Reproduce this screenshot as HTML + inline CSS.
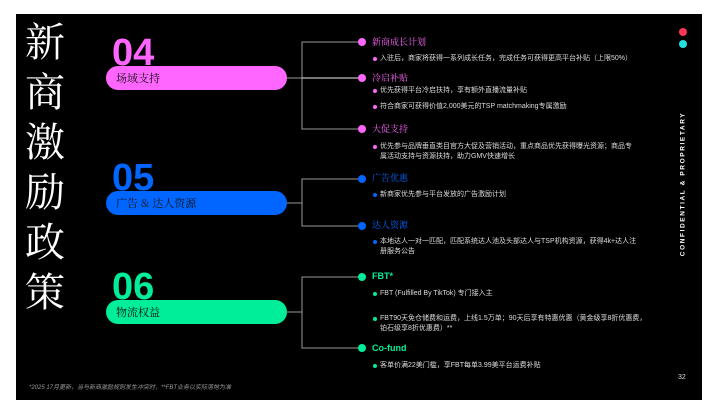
<!DOCTYPE html>
<html><head><meta charset="utf-8"><style>
body{margin:0;width:719px;height:415px;background:#fff;position:relative;overflow:hidden;font-family:"Liberation Sans","Noto Sans CJK SC",sans-serif}
.bg{position:absolute;left:16px;top:14px;width:686px;height:386px;background:#000}
.a{position:absolute;white-space:nowrap}
.t{left:25px;color:#fff;font-family:"Noto Serif CJK SC",serif;font-size:40px;line-height:40px}
.num{font-weight:bold;font-size:38px;line-height:30px;left:112px}
.bar{position:absolute;left:106px;width:181px;height:24px;border-radius:12px;color:#111;font-family:"Noto Serif CJK SC",serif;font-size:11px;line-height:24px;padding-left:10px;box-sizing:border-box}
.h{font-size:9px;line-height:10px;left:372px;font-family:"Noto Serif CJK SC",serif}
.b{font-size:7px;line-height:10px;left:380px;color:#ddd}
.sd{position:absolute;width:4px;height:4px;border-radius:50%;left:373px}
</style></head><body>
<div class="bg"></div>
<div class="a t" style="top:20px">新</div>
<div class="a t" style="top:70px">商</div>
<div class="a t" style="top:120px">激</div>
<div class="a t" style="top:170px">励</div>
<div class="a t" style="top:220px">政</div>
<div class="a t" style="top:270px">策</div>

<div class="a num" style="top:38px;color:#ff66ff">04</div>
<div class="bar" style="top:66px;background:#ff66ff">场域支持</div>
<div class="a num" style="top:163px;color:#0066ff">05</div>
<div class="bar" style="top:191px;background:#0066ff">广告 &amp; 达人资源</div>
<div class="a num" style="top:272px;color:#00ee99">06</div>
<div class="bar" style="top:300px;background:#00ee99">物流权益</div>

<svg class="a" style="left:0;top:0" width="719" height="415">
<g stroke="#999" stroke-width="1" fill="none">
<path d="M362 42H302V129H362"/><path d="M287 78H302"/>
<path d="M362 179H302V226H362"/><path d="M287 203H302"/>
<path d="M362 277H302V348H362"/><path d="M287 312H302"/>
</g>
<path d="M302 78H362" stroke="#eee" stroke-width="1"/>
<g fill="#ff66ff"><circle cx="362" cy="42" r="4"/><circle cx="362" cy="78" r="4"/><circle cx="362" cy="129" r="4"/></g>
<g fill="#0066ff"><circle cx="362" cy="179" r="4"/><circle cx="362" cy="226" r="4"/></g>
<g fill="#00ee99"><circle cx="362" cy="277" r="4"/><circle cx="362" cy="348" r="4"/></g>
<circle cx="683" cy="32" r="4" fill="#ff3355"/><circle cx="683" cy="44" r="4" fill="#22e0e0"/>
</svg>

<div class="a h" style="top:37px;color:#ff66ff">新商成长计划</div>
<div class="sd" style="top:57px;background:#ff66ff"></div><div class="a b" style="top:54px">入驻后，商家将获得一系列成长任务，完成任务可获得更高平台补贴（上限50%）</div>
<div class="a h" style="top:73px;color:#ff66ff">冷启补贴</div>
<div class="sd" style="top:89px;background:#ff66ff"></div><div class="a b" style="top:86px">优先获得平台冷启扶持，享有额外直播流量补贴</div>
<div class="sd" style="top:105px;background:#ff66ff"></div><div class="a b" style="top:102px">符合商家可获得价值2,000美元的TSP matchmaking专属激励</div>
<div class="a h" style="top:124px;color:#ff66ff">大促支持</div>
<div class="sd" style="top:145px;background:#ff66ff"></div><div class="a b" style="top:142px">优先参与品牌垂直类目官方大促及营销活动，重点商品优先获得曝光资源；商品专</div>
<div class="a b" style="top:152px">属活动支持与资源扶持，助力GMV快速增长</div>

<div class="a h" style="top:173px;color:#0066ff">广告优惠</div>
<div class="sd" style="top:193px;background:#0066ff"></div><div class="a b" style="top:190px">新商家优先参与平台发放的广告激励计划</div>
<div class="a h" style="top:220px;color:#0066ff">达人资源</div>
<div class="sd" style="top:240px;background:#0066ff"></div><div class="a b" style="top:237px">本地达人一对一匹配，匹配系统达人池及头部达人与TSP机构资源，获得4k+达人注</div>
<div class="a b" style="top:247px">册服务公告</div>

<div class="a h" style="top:271px;color:#00ee99;font-family:'Liberation Sans',sans-serif;font-weight:bold">FBT*</div>
<div class="sd" style="top:292px;background:#00ee99"></div><div class="a b" style="top:289px">FBT (Fulfilled By TikTok) 专门接入主</div>
<div class="sd" style="top:317px;background:#00ee99"></div><div class="a b" style="top:314px">FBT90天免仓储费和运费，上线1.5万单；90天后享有特惠优惠（黄金级享8折优惠费，</div>
<div class="a b" style="top:324px">铂石级享8折优惠费）**</div>
<div class="a h" style="top:343px;color:#00ee99;font-family:'Liberation Sans',sans-serif;font-weight:bold">Co-fund</div>
<div class="sd" style="top:364px;background:#00ee99"></div><div class="a b" style="top:361px">客单价满22美门槛，享FBT每单3.99美平台运费补贴</div>

<div class="a" style="left:678px;top:374px;color:#ddd;font-size:7px">32</div>
<div class="a" style="left:29px;top:382px;color:#999;font-size:6px;font-style:italic">*2025 17月更新，当与新商激励规则发生冲突时，**FBT业务以实际落地为准</div>
<div class="a" style="left:683px;top:184px;color:#fff;font-size:6.5px;font-weight:bold;letter-spacing:1.6px;transform:translate(-50%,-50%) rotate(-90deg)">CONFIDENTIAL &amp; PROPRIETARY</div>
</body></html>
